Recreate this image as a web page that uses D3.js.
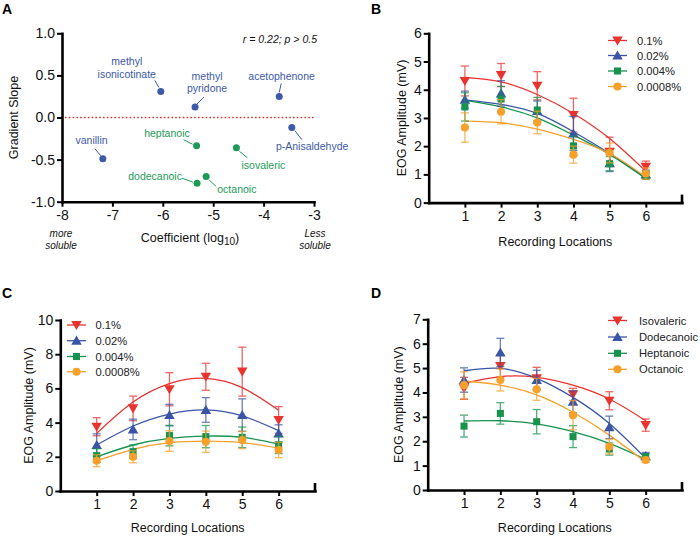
<!DOCTYPE html>
<html><head><meta charset="utf-8">
<script src="https://cdn.jsdelivr.net/npm/d3@7"></script>
<style>body{margin:0;background:#fff}svg{display:block}text{font-family:"Liberation Sans",Arial,Helvetica,sans-serif}</style>
</head><body><svg id="c" width="700" height="536"></svg>
<script>
// ---------- Panel A data ----------
const compoundNames = ["methyl isonicotinate","methyl pyridone","acetophenone","p-Anisaldehyde","vanillin","heptanoic","isovaleric","octanoic","dodecanoic"];
const compoundLogCoef = [-6.04,-5.36,-3.69,-3.44,-7.19,-5.33,-4.54,-5.14,-5.32];
const compoundSlope = [0.31,0.125,0.25,-0.12,-0.49,-0.335,-0.36,-0.70,-0.78];
const compoundGroup = ["other","other","other","other","other","acid","acid","acid","acid"];
const slopeTicks = [-1,-0.5,0,0.5,1];
const coefTicks = [-8,-7,-6,-5,-4,-3];

// ---------- Panels B-D data ----------
const locations = [1,2,3,4,5,6];
const concentrationNames = ["0.1%","0.02%","0.004%","0.0008%"];
const acidNames = ["Isovaleric","Dodecanoic","Heptanoic","Octanoic"];

const bMeans = [[4.31,4.52,4.14,3.10,1.80,1.27],[3.65,3.87,3.25,2.45,1.40,1.00],[3.39,3.67,3.28,2.01,1.38,0.97],[2.66,3.22,2.84,1.70,1.76,1.03]];
const bErrors = [[0.53,0.41,0.50,0.60,0.52,0.20],[0.30,0.45,0.35,0.60,0.30,0.15],[0.50,0.45,0.45,0.35,0.25,0.15],[0.52,0.43,0.40,0.30,0.35,0.20]];
const bFits = [[4.44,4.28,3.83,3.16,2.27,1.11],[3.64,3.48,3.16,2.51,1.74,0.87],[3.62,3.39,3.00,2.39,1.71,0.85],[2.89,2.83,2.60,2.24,1.74,0.91]];

const cMeans = [[3.76,4.83,5.95,6.68,6.98,4.15],[2.69,3.60,4.44,4.74,4.44,3.37],[2.07,2.30,3.24,3.18,3.14,2.69],[1.77,2.00,2.92,2.88,2.98,2.40]];
const cErrors = [[0.53,0.72,0.97,0.79,1.43,0.78],[0.65,0.60,0.63,0.72,0.95,0.50],[0.40,0.40,0.60,0.65,0.60,0.50],[0.35,0.35,0.60,0.62,0.50,0.45]];
const cFits = [[3.37,5.20,6.28,6.59,6.05,4.72],[2.69,3.80,4.50,4.74,4.39,3.53],[2.00,2.69,3.08,3.21,3.14,2.75],[1.77,2.44,2.83,2.92,2.83,2.50]];

const dMeans = [[4.17,5.08,4.58,3.92,3.66,2.66],[4.51,5.64,4.51,3.62,2.57,1.39],[2.62,3.14,2.80,2.19,1.68,1.37],[4.30,4.51,4.13,3.07,1.78,1.23]];
const dErrors = [[0.45,0.45,0.45,0.25,0.37,0.25],[0.50,0.58,0.40,0.45,0.46,0.15],[0.45,0.44,0.50,0.45,0.25,0.12],[0.55,0.45,0.45,0.60,0.30,0.10]];
const dFits = [[4.37,4.65,4.62,4.30,3.73,2.84],[4.89,4.99,4.58,3.80,2.73,1.30],[2.83,2.84,2.71,2.39,1.91,1.26],[4.47,4.30,3.90,3.19,2.25,1.14]];

const bTicks = [0,1,2,3,4,5,6];
const cTicks = [0,2,4,6,8,10];
const dTicks = [0,1,2,3,4,5,6,7];

// ---------- styles / layout ----------
const seriesColors = ["#e8332f","#3a55a5","#17924f","#f7a02a"];
const seriesShapes = ["down","up","square","circle"];
const groupColors = {other:"#3d59a8", acid:"#1e9a58"};
const FONT = '"Liberation Sans",Arial,sans-serif';

const svg = d3.select("#c");

function hyphen(s){return String(s).replace("\u2212","-");}

function drawAxes(g, x, y, xTicks, yTicks, yFmt, opts){
  const ax = g.append("g").attr("transform",`translate(0,${y.range()[0]})`)
    .call(d3.axisBottom(x).tickValues(xTicks).tickSize(5).tickSizeOuter(0).tickPadding(3).tickFormat(opts.xFmt||(d=>d)));
  const ay = g.append("g").attr("transform",`translate(${x.range()[0]},0)`)
    .call(d3.axisLeft(y).tickValues(yTicks).tickSize(5).tickSizeOuter(0).tickPadding(2).tickFormat(yFmt));
  [ax,ay].forEach(a=>{
    a.select(".domain").attr("stroke","#000").attr("stroke-width",2.6).attr("stroke-linecap","square");
    a.selectAll(".tick line").attr("stroke","#000").attr("stroke-width",2);
    a.selectAll(".tick text").attr("font-size",14).attr("font-family",FONT).attr("fill","#111");
  });
  return {ax,ay};
}

function symbolPath(shape, size){
  const t = shape==="square"?d3.symbolSquare:shape==="circle"?d3.symbolCircle:d3.symbolTriangle;
  return d3.symbol().type(t).size(size)();
}
function addMarker(sel, shape, color, cx, cy){
  let s = shape==="square"?50:shape==="circle"?52:48;
  let dy = shape==="down"?-1:shape==="up"?1:0;
  sel.append("path").attr("d",symbolPath(shape,s))
    .attr("transform",`translate(${cx},${cy+dy})${shape==="down"?" rotate(180)":""}`)
    .attr("fill",color);
}

function linePanel(cfg){
  const g = svg.append("g");
  const x = d3.scaleLinear().domain([0,7]).range([cfg.x0,cfg.x1]);
  const y = d3.scaleLinear().domain([0,cfg.yMax]).range([cfg.y0,cfg.y1]);
  drawAxes(g,x,y,locations,cfg.yTicks,d=>d,{});
  g.append("line").attr("x1",x(7)).attr("x2",x(7)).attr("y1",y(0)).attr("y2",y(0)-8)
    .attr("stroke","#000").attr("stroke-width",2.6);
  const line = d3.line().x((d,i)=>x(locations[i])).y(d=>y(d)).curve(d3.curveNatural);
  cfg.fits.forEach((f,k)=>{
    g.append("path").attr("d",line(f)).attr("fill","none").attr("stroke",seriesColors[k]).attr("stroke-width",1.3);
  });
  cfg.means.forEach((m,k)=>{
    const col = seriesColors[k];
    const eg = g.append("g").attr("stroke",col).attr("stroke-width",1.3).attr("opacity",0.75);
    m.forEach((v,i)=>{
      const e = cfg.errs[k][i], cx = x(locations[i]);
      eg.append("line").attr("x1",cx).attr("x2",cx).attr("y1",y(v-e)).attr("y2",y(v+e));
      [v-e,v+e].forEach(w=>eg.append("line").attr("x1",cx-4).attr("x2",cx+4).attr("y1",y(w)).attr("y2",y(w)));
    });
    m.forEach((v,i)=>addMarker(g,seriesShapes[k],col,x(locations[i]),y(v)));
  });
  cfg.names.forEach((n,k)=>{
    const ly = cfg.legY[k];
    g.append("line").attr("x1",cfg.legX).attr("x2",cfg.legX+19).attr("y1",ly).attr("y2",ly)
      .attr("stroke",seriesColors[k]).attr("stroke-width",1.3);
    addMarker(g,seriesShapes[k],seriesColors[k],cfg.legX+9.5,ly);
    g.append("text").attr("x",cfg.legX+cfg.legTextDx).attr("y",ly).attr("dy","0.36em")
      .attr("font-size",11.2).attr("fill","#222").text(n);
  });
  g.append("text").attr("transform",`translate(${cfg.yTitleX},${(cfg.y0+cfg.y1)/2+cfg.yTitleDy}) rotate(-90)`)
    .attr("text-anchor","middle").attr("font-size",12.5).attr("fill","#111").text("EOG Amplitude (mV)");
  g.append("text").attr("x",(x(1)+x(6))/2).attr("y",cfg.xTitleY).attr("text-anchor","middle")
    .attr("font-size",12.5).attr("fill","#111").text("Recording Locations");
  g.append("text").attr("x",cfg.letterX).attr("y",cfg.letterY).attr("font-size",14).attr("font-weight","bold").text(cfg.letter);
}

// ---------- Panel A ----------
(function(){
  const g = svg.append("g");
  const x = d3.scaleLinear().domain([-8,-3]).range([62,314]);
  const y = d3.scaleLinear().domain([-1,1]).range([201.7,33.3]);
  drawAxes(g,x,y,coefTicks,slopeTicks,d=>hyphen(d3.format(".1f")(d)),{xFmt:d=>hyphen(d)});
  g.append("line").attr("x1",x(-8)+3).attr("x2",x(-3)).attr("y1",y(0)).attr("y2",y(0))
    .attr("stroke","#e5322d").attr("stroke-width",1.6).attr("stroke-dasharray","1.6,2.2");
  const labelLayout = [
    {dx:-34, lines:["methyl","isonicotinate"], dy:[-29.7,-17], l:[-6,-11,-2,-4]},
    {dx:12, lines:["methyl","pyridone"], dy:[-30.7,-18.3], l:[9,-10,2,-3]},
    {dx:2.4, lines:["acetophenone"], dy:[-20.4], l:[2,-13,0,-4]},
    {dx:20.3, lines:["p-Anisaldehyde"], dy:[19], l:[3,3,10,12]},
    {dx:-11.3, lines:["vanillin"], dy:[-18.4], l:[-8,-10,-2,-3]},
    {dx:-29.6, lines:["heptanoic"], dy:[-12.4], l:[-13,-6,-4,-1.5]},
    {dx:27, lines:["isovaleric"], dy:[17.7], l:[3,3.5,11,10]},
    {dx:30.7, lines:["octanoic"], dy:[13], l:[3,3.5,10,10]},
    {dx:-42, lines:["dodecanoic"], dy:[-7.3], l:[-15,-5,-4,-1]}
  ];
  compoundNames.forEach((n,i)=>{
    const px = x(compoundLogCoef[i]), py = y(compoundSlope[i]);
    const col = groupColors[compoundGroup[i]];
    const L = labelLayout[i];
    g.append("line").attr("x1",px+L.l[0]).attr("y1",py+L.l[1]).attr("x2",px+L.l[2]).attr("y2",py+L.l[3])
      .attr("stroke",col).attr("stroke-width",1);
    g.append("circle").attr("cx",px).attr("cy",py).attr("r",3.5).attr("fill",col);
    L.lines.forEach((t,j)=>{
      g.append("text").attr("x",px+L.dx).attr("y",py+L.dy[j]).attr("dy","0.36em")
        .attr("text-anchor","middle").attr("font-size",10.5).attr("fill",col).text(t);
    });
  });
  g.append("text").attr("x",317).attr("y",39.3).attr("dy","0.36em").attr("text-anchor","end")
    .attr("font-size",10.5).attr("font-style","italic").attr("fill","#111").text("r = 0.22; p > 0.5");
  g.append("text").attr("transform","translate(13,117.5) rotate(-90)").attr("dy","0.36em")
    .attr("text-anchor","middle").attr("font-size",12.5).attr("fill","#111").text("Gradient Slope");
  const t = g.append("text").attr("x",190).attr("y",241.5).attr("text-anchor","middle").attr("font-size",12.5).attr("fill","#111");
  t.append("tspan").text("Coefficient (log");
  t.append("tspan").attr("font-size",10).attr("dy",3).text("10");
  t.append("tspan").attr("dy",-3).text(")");
  [["more",61,233],["soluble",61,245],["Less",315,233],["soluble",315,245]].forEach(d=>{
    g.append("text").attr("x",d[1]).attr("y",d[2]).attr("dy","0.36em").attr("text-anchor","middle")
      .attr("font-size",10).attr("font-style","italic").attr("fill","#111").text(d[0]);
  });
  g.append("text").attr("x",2).attr("y",14).attr("font-size",14).attr("font-weight","bold").text("A");
})();

// ---------- Panels B, C, D ----------
linePanel({letter:"B",letterX:371,letterY:14,x0:428.7,x1:682,y0:202.6,y1:33.3,yMax:6,yTicks:bTicks,
  means:bMeans,errs:bErrors,fits:bFits,names:concentrationNames,legX:608,legTextDx:29,legY:[40.5,55.5,71,86.5],
  yTitleX:406,yTitleDy:0,xTitleY:246});
linePanel({letter:"C",letterX:2,letterY:298,x0:60.3,x1:315,y0:491,y1:320,yMax:10,yTicks:cTicks,
  means:cMeans,errs:cErrors,fits:cFits,names:concentrationNames,legX:67,legTextDx:28.5,legY:[325,340.7,356.5,371.7],
  yTitleX:33,yTitleDy:0,xTitleY:532});
linePanel({letter:"D",letterX:371,letterY:298,x0:427.7,x1:682,y0:490,y1:319.3,yMax:7,yTicks:dTicks,
  means:dMeans,errs:dErrors,fits:dFits,names:acidNames,legX:608,legTextDx:31,legY:[320.5,337,353.3,369.3],
  yTitleX:403,yTitleDy:0,xTitleY:532});
</script></body></html>
